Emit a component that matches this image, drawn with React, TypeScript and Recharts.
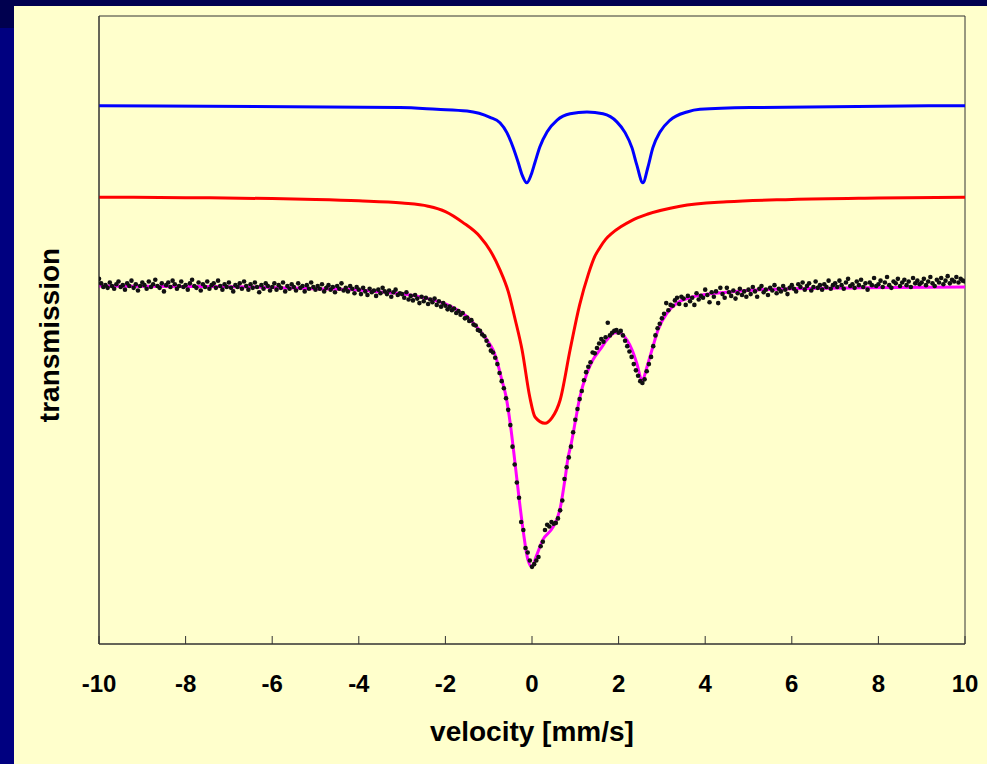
import React from "react";
import {
  ComposedChart,
  Line,
  Scatter,
  XAxis,
  YAxis,
  ReferenceArea,
} from "recharts";

// measured transmission, one row per 1 mm/s, channels every 0.05 mm/s, from -10
const channelStep = 0.05;
const measuredRows: number[][] = [
  [4.07, 4.02, 3.98, 4.0, 3.97, 4.03, 3.99, 3.96, 4.01, 4.04, 3.98, 4.0, 3.95, 4.02, 3.99, 4.05, 3.97, 4.01, 3.94, 3.99],
  [4.03, 4.0, 3.96, 4.04, 3.98, 4.01, 4.06, 3.99, 3.97, 4.02, 3.93, 4.0, 4.03, 3.98, 4.05, 4.01, 3.96, 3.99, 4.04, 3.98],
  [4.0, 3.95, 4.02, 4.06, 3.99, 3.97, 4.03, 3.94, 4.01, 3.98, 4.04, 3.96, 4.0, 4.02, 3.97, 4.05, 3.99, 3.95, 4.01, 3.98],
  [4.03, 3.97, 3.93, 4.0, 3.98, 4.02, 3.96, 4.04, 3.99, 3.95, 4.01, 3.97, 4.03, 3.98, 3.92, 4.0, 3.96, 4.02, 3.99, 3.94],
  [3.98, 4.02, 3.95, 4.0, 3.97, 4.03, 3.93, 3.99, 3.96, 4.01, 3.98, 3.94, 4.02, 3.97, 3.99, 3.93, 4.0, 3.96, 4.03, 3.98],
  [3.95, 3.99, 3.96, 4.01, 3.93, 3.97, 4.0, 3.95, 3.98, 3.92, 3.99, 3.96, 4.02, 3.94, 3.97, 3.93, 3.99, 3.96, 3.91, 3.98],
  [3.95, 3.9, 3.97, 3.93, 3.89, 3.96, 3.92, 3.94, 3.88, 3.95, 3.91, 3.97, 3.93, 3.9, 3.94, 3.87, 3.92, 3.95, 3.89, 3.91],
  [3.9, 3.86, 3.92, 3.84, 3.88, 3.83, 3.89, 3.85, 3.8, 3.87, 3.82, 3.86, 3.79, 3.84, 3.81, 3.85, 3.78, 3.82, 3.76, 3.8],
  [3.77, 3.73, 3.76, 3.72, 3.74, 3.69, 3.71, 3.67, 3.69, 3.63, 3.64, 3.6, 3.61, 3.56, 3.55, 3.5, 3.49, 3.45, 3.43, 3.38],
  [3.33, 3.27, 3.25, 3.19, 3.12, 3.02, 2.93, 2.85, 2.74, 2.61, 2.44, 2.2, 2.0, 1.8, 1.63, 1.36, 1.27, 1.07, 1.02, 0.93],
  [0.86, 0.89, 0.93, 0.97, 1.09, 1.14, 1.27, 1.33, 1.31, 1.36, 1.34, 1.35, 1.4, 1.49, 1.6, 1.84, 1.97, 2.08, 2.2, 2.36],
  [2.5, 2.62, 2.73, 2.82, 2.94, 3.03, 3.09, 3.14, 3.25, 3.24, 3.3, 3.35, 3.4, 3.37, 3.42, 3.58, 3.44, 3.47, 3.49, 3.5],
  [3.47, 3.49, 3.44, 3.38, 3.32, 3.26, 3.2, 3.12, 3.05, 2.99, 2.93, 2.91, 2.95, 3.04, 3.12, 3.2, 3.32, 3.44, 3.52, 3.57],
  [3.63, 3.68, 3.8, 3.72, 3.78, 3.77, 3.83, 3.86, 3.79, 3.87, 3.85, 3.78, 3.88, 3.82, 3.86, 3.78, 3.91, 3.84, 3.88, 3.86],
  [3.95, 3.89, 3.81, 3.92, 3.87, 3.93, 3.8, 3.97, 3.9, 3.86, 3.97, 3.92, 3.88, 3.94, 3.85, 3.91, 3.96, 3.89, 3.93, 3.87],
  [3.95, 3.9, 3.98, 3.93, 3.87, 3.96, 3.99, 3.92, 3.95, 3.89, 3.97, 3.94, 4.0, 3.91, 3.96, 3.93, 3.99, 3.95, 3.9, 3.97],
  [4.0, 3.96, 3.93, 4.01, 3.98, 4.03, 3.95, 3.99, 4.02, 3.94, 3.98, 4.04, 3.97, 4.0, 3.95, 4.01, 3.98, 4.05, 3.96, 4.0],
  [4.02, 3.98, 4.05, 4.0, 3.96, 4.03, 4.07, 3.99, 4.01, 3.97, 4.04, 4.0, 4.06, 3.98, 4.02, 3.95, 4.03, 4.0, 4.08, 3.99],
  [4.01, 4.05, 3.98, 4.03, 4.09, 4.0, 3.97, 4.04, 4.02, 4.07, 3.99, 4.03, 4.06, 4.0, 4.04, 3.98, 4.08, 4.02, 4.05, 4.01],
  [4.03, 4.07, 4.0, 4.04, 4.09, 4.02, 3.99, 4.06, 4.03, 4.08, 4.01, 4.05, 4.1, 4.02, 4.06, 4.04, 4.09, 4.03, 4.07, 4.05],
  [4.04],
];

// total fit (magenta)
const fitV = [-10, -8, -6, -5, -4, -3.5, -3, -2.5, -2, -1.75, -1.5, -1.25, -1, -0.9, -0.8, -0.7, -0.6, -0.5, -0.4, -0.3, -0.2, -0.1, 0, 0.1, 0.25, 0.48, 0.65, 0.76, 0.83, 0.9, 1, 1.1, 1.27, 1.41, 1.57, 1.73, 1.92, 2.03, 2.19, 2.31, 2.42, 2.54, 2.68, 2.79, 2.91, 3.12, 3.35, 3.72, 4.5, 5.27, 6, 7.6, 10];
const fitT = [3.99, 3.985, 3.975, 3.96, 3.945, 3.925, 3.905, 3.86, 3.79, 3.73, 3.65, 3.52, 3.36, 3.28, 3.14, 2.95, 2.76, 2.45, 2.05, 1.63, 1.25, 0.95, 0.86, 0.98, 1.16, 1.3, 1.51, 1.83, 2.07, 2.22, 2.48, 2.74, 3.02, 3.17, 3.28, 3.39, 3.47, 3.47, 3.39, 3.28, 3.13, 2.94, 3.13, 3.31, 3.5, 3.69, 3.8, 3.87, 3.92, 3.95, 3.96, 3.97, 3.98];

// broad singlet (red)
const singletV = [-10, -8, -6, -5, -4, -3, -2.4, -2.0, -1.6, -1.2, -0.97, -0.74, -0.55, -0.39, -0.23, -0.05, 0.07, 0.3, 0.46, 0.65, 0.88, 1.1, 1.3, 1.45, 1.57, 1.7, 1.85, 2.05, 2.3, 2.66, 3.42, 4.5, 6, 8, 10];
const singletT = [4.98, 4.975, 4.965, 4.955, 4.94, 4.915, 4.88, 4.82, 4.7, 4.54, 4.39, 4.17, 3.93, 3.62, 3.28, 2.75, 2.53, 2.46, 2.52, 2.72, 3.28, 3.78, 4.12, 4.32, 4.42, 4.51, 4.58, 4.65, 4.72, 4.79, 4.88, 4.93, 4.955, 4.97, 4.98];

// doublet (blue)
const doubletV = [-10, -3.05, -2.2, -1.5, -0.97, -0.74, -0.58, -0.44, -0.32, -0.23, -0.12, -0.02, 0.07, 0.18, 0.35, 0.58, 0.88, 1.27, 1.64, 1.96, 2.15, 2.31, 2.42, 2.56, 2.68, 2.79, 2.96, 3.19, 3.58, 3.88, 5.03, 10];
const doubletT = [6.0, 5.98, 5.96, 5.94, 5.87, 5.81, 5.7, 5.54, 5.37, 5.23, 5.14, 5.23, 5.37, 5.54, 5.71, 5.84, 5.91, 5.93, 5.91, 5.82, 5.7, 5.53, 5.34, 5.14, 5.32, 5.53, 5.71, 5.84, 5.93, 5.96, 5.98, 6.0];

const xTicks = [-10, -8, -6, -4, -2, 0, 2, 4, 6, 8, 10];
const yTicks = [0, 1, 2, 3, 4, 5, 6, 7];

const measured = measuredRows.flatMap((row, i) =>
  row.map((t, j) => ({ v: +(-10 + i + j * channelStep).toFixed(2), t }))
);
const pairs = (vs: number[], ts: number[]) => vs.map((v, i) => ({ v, t: ts[i] }));
const fit = pairs(fitV, fitT);
const singlet = pairs(singletV, singletT);
const doublet = pairs(doubletV, doubletT);

const font = "'Liberation Sans', Arial, Helvetica, sans-serif";
const axisColor = "#333";

const Dot = (p: any) => <circle cx={p.cx} cy={p.cy} r={2.3} fill="#111" />;

export default function App() {
  return (
    <div
      style={{
        position: "absolute",
        left: 0,
        top: 0,
        width: 987,
        height: 764,
        background: "#000080",
        overflow: "hidden",
        fontFamily: font,
      }}
    >
      <div style={{ position: "absolute", left: 0, top: 0, width: 987, height: 6, background: "#00004f" }} />
      <div style={{ position: "absolute", left: 0, top: 0, width: 14, height: 28, background: "#00004f" }} />
      <div style={{ position: "absolute", left: 14, top: 6, width: 973, height: 758, background: "#ffffcc" }} />
      <div style={{ position: "absolute", left: 0, top: 0 }}>
        <ComposedChart width={987} height={764} margin={{ top: 16, right: 22, left: 79, bottom: 60 }}>
          <XAxis
            dataKey="v"
            type="number"
            domain={[-10, 10]}
            ticks={xTicks}
            allowDataOverflow
            height={60}
            tickSize={-8}
            tickMargin={39}
            axisLine={{ stroke: axisColor }}
            tickLine={{ stroke: axisColor }}
            tick={{ fill: "#000", fontSize: 24, fontWeight: "bold", fontFamily: font }}
          />
          <YAxis
            dataKey="t"
            type="number"
            domain={[0, 7]}
            ticks={yTicks}
            allowDataOverflow
            width={20}
            tickSize={-8}
            tick={false}
            axisLine={{ stroke: axisColor }}
            tickLine={{ stroke: axisColor }}
          />
          <ReferenceArea x1={-10} x2={10} y1={0} y2={7} fill="none" stroke={axisColor} strokeWidth={1} />
          <Line data={doublet} dataKey="t" type="monotone" stroke="#0000ff" strokeWidth={3} dot={false} isAnimationActive={false} />
          <Line data={singlet} dataKey="t" type="monotone" stroke="#ff0000" strokeWidth={3} dot={false} isAnimationActive={false} />
          <Line data={fit} dataKey="t" type="monotone" stroke="#ff00ff" strokeWidth={3} dot={false} isAnimationActive={false} />
          <Scatter data={measured} dataKey="t" shape={Dot} isAnimationActive={false} />
        </ComposedChart>
      </div>
      <div
        style={{
          position: "absolute",
          left: 332,
          top: 716,
          width: 400,
          textAlign: "center",
          fontSize: 28,
          fontWeight: "bold",
          lineHeight: "32px",
          color: "#000",
        }}
      >
        velocity [mm/s]
      </div>
      <div
        style={{
          position: "absolute",
          left: 50,
          top: 335,
          width: 300,
          marginLeft: -150,
          marginTop: -16,
          textAlign: "center",
          fontSize: 28,
          fontWeight: "bold",
          lineHeight: "32px",
          color: "#000",
          transform: "rotate(-90deg)",
        }}
      >
        transmission
      </div>
    </div>
  );
}
